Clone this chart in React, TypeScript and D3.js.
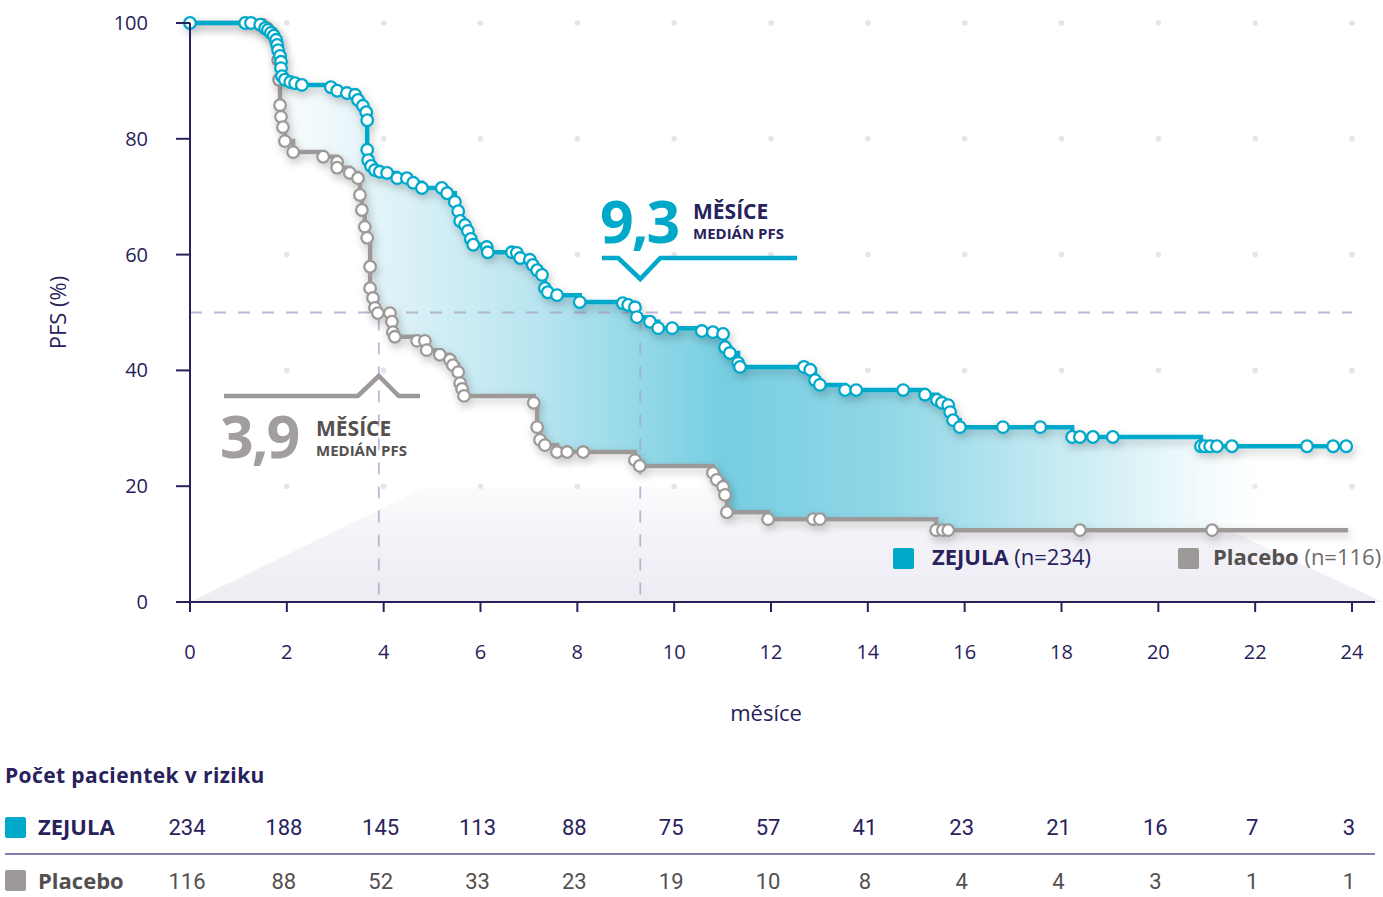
import React from 'react';
import * as d3 from 'd3';

// ---------- DATA ----------
const xTickValues = [0, 2, 4, 6, 8, 10, 12, 14, 16, 18, 20, 22, 24];
const yTickValues = [0, 20, 40, 60, 80, 100];

// [month, PFS %, censor mark (1) ]
const zejula: [number, number, number][] = [
  [0, 100, 1], [1.14, 100, 1], [1.26, 100, 1], [1.45, 99.7, 1], [1.55, 99.1, 1], [1.61, 98.8, 1],
  [1.67, 98.3, 1], [1.73, 97.8, 1], [1.78, 97.1, 1], [1.8, 96.2, 1], [1.82, 95.3, 1], [1.86, 94.3, 1],
  [1.88, 93.3, 1], [1.88, 92.2, 1], [1.9, 90.8, 1], [1.96, 90.2, 1], [2.07, 89.8, 1], [2.17, 89.6, 1],
  [2.31, 89.3, 1], [2.91, 88.9, 1], [3.04, 88.3, 1], [3.24, 87.9, 1], [3.41, 87.6, 1], [3.47, 86.7, 1],
  [3.57, 85.7, 1], [3.64, 84.6, 1], [3.66, 83.2, 1], [3.66, 78.1, 1], [3.68, 76.3, 1], [3.74, 75.3, 1],
  [3.82, 74.6, 1], [3.92, 74.3, 1], [4.07, 74.1, 1], [4.28, 73.2, 1], [4.48, 73.2, 1], [4.61, 72.4, 1],
  [4.79, 71.5, 1], [5.2, 71.5, 1], [5.31, 70.6, 1], [5.47, 69.1, 1], [5.54, 67.5, 1], [5.58, 65.8, 1],
  [5.68, 65.1, 1], [5.74, 64.1, 1], [5.8, 62.7, 1], [5.85, 61.7, 1], [6.13, 61.3, 1], [6.15, 60.4, 1],
  [6.65, 60.4, 1], [6.75, 60.3, 1], [6.82, 59.4, 1], [7.02, 59.1, 1], [7.08, 58.2, 1], [7.17, 57.3, 1],
  [7.27, 56.5, 1], [7.33, 54.2, 1], [7.39, 53.5, 1], [7.58, 53.0, 1], [8.05, 51.8, 1], [8.94, 51.6, 1],
  [9.05, 51.3, 1], [9.19, 50.9, 1], [9.23, 49.2, 1], [9.5, 48.4, 1], [9.67, 47.3, 1], [9.96, 47.3, 1],
  [10.57, 46.8, 1], [10.8, 46.6, 1], [11.01, 46.3, 1], [11.05, 44.0, 1], [11.15, 43.0, 1], [11.32, 41.3, 1],
  [11.36, 40.6, 1], [12.68, 40.6, 1], [12.81, 40.1, 1], [12.91, 38.3, 1], [13.01, 37.5, 1], [13.53, 36.6, 1],
  [13.76, 36.6, 1], [14.73, 36.6, 1], [15.18, 35.8, 1], [15.43, 34.9, 1], [15.53, 34.4, 1], [15.66, 34.0, 1],
  [15.7, 32.8, 1], [15.76, 31.4, 1], [15.9, 30.2, 1], [16.79, 30.2, 1], [17.56, 30.2, 1], [18.22, 28.5, 1],
  [18.38, 28.5, 1], [18.65, 28.5, 1], [19.06, 28.5, 1], [20.88, 26.9, 1], [20.96, 26.9, 1], [21.07, 26.9, 1],
  [21.21, 26.9, 1], [21.52, 26.9, 1], [23.07, 26.9, 1], [23.61, 26.9, 1], [23.88, 26.9, 1],
];

const placebo: [number, number, number][] = [
  [0, 100, 0], [1.49, 99.7, 1], [1.59, 99.1, 1], [1.69, 98.3, 1], [1.78, 96.7, 1], [1.82, 93.6, 1],
  [1.84, 90.2, 1], [1.86, 85.8, 1], [1.88, 83.8, 1], [1.92, 82.0, 1], [1.96, 79.6, 1], [2.13, 77.7, 1],
  [2.75, 76.9, 1], [3.04, 76.0, 1], [3.04, 75.0, 1], [3.3, 74.1, 1], [3.47, 73.2, 1], [3.51, 70.3, 1],
  [3.55, 67.7, 1], [3.61, 64.8, 1], [3.66, 62.9, 1], [3.72, 57.9, 1], [3.72, 54.2, 1], [3.78, 52.5, 1],
  [3.82, 50.8, 1], [3.88, 49.9, 1], [4.13, 49.9, 1], [4.17, 48.4, 1], [4.19, 46.6, 1], [4.23, 45.8, 1],
  [4.69, 45.1, 1], [4.85, 45.1, 1], [4.89, 43.5, 1], [5.16, 42.7, 1], [5.37, 41.8, 1], [5.43, 40.9, 1],
  [5.54, 39.7, 1], [5.58, 37.8, 1], [5.62, 36.8, 1], [5.66, 35.6, 1], [7.1, 34.4, 1], [7.17, 30.2, 1],
  [7.23, 28.0, 1], [7.33, 27.1, 1], [7.58, 25.9, 1], [7.79, 25.9, 1], [8.12, 25.9, 1], [9.19, 24.5, 1],
  [9.29, 23.5, 1], [10.8, 22.3, 1], [10.88, 21.1, 1], [11.01, 19.9, 1], [11.05, 18.5, 1], [11.09, 15.5, 1],
  [11.94, 14.3, 1], [12.87, 14.3, 1], [13.01, 14.3, 1], [15.41, 12.4, 1], [15.55, 12.4, 1], [15.66, 12.4, 1],
  [18.38, 12.4, 1], [21.11, 12.4, 1], [23.92, 12.4, 0],
];

const atRiskZejula = [234, 188, 145, 113, 88, 75, 57, 41, 23, 21, 16, 7, 3];
const atRiskPlacebo = [116, 88, 52, 33, 23, 19, 10, 8, 4, 4, 3, 1, 1];
const medianZejula = 9.3;
const medianPlacebo = 3.9;
const medianLevel = 50;

// ---------- STYLE ----------
const NAVY = '#28225c';
const BLUE = '#00a8c9';
const GREY = '#9d9999';
const GREY_TEXT = '#545050';
const FONT = '"Open Sans", "Noto Sans", sans-serif';
const NUM_FONT = '"Liberation Sans Narrow", "Roboto", sans-serif';

type Pt = [number, number, number];

function valueAt(s: Pt[], t: number) {
  let v = s[0][1];
  for (const d of s) {
    if (d[0] <= t) v = d[1];
    else break;
  }
  return v;
}

export default function App() {
  React.useEffect(() => {
    document.body.style.margin = '0';
  }, []);

  const x = d3.scaleLinear().domain([0, 24]).range([190, 1352]);
  const y = d3.scaleLinear().domain([0, 100]).range([602, 23]);

  const line = d3
    .line<Pt>()
    .x((d) => x(d[0]))
    .y((d) => y(d[1]))
    .curve(d3.curveStepAfter);

  const tEnd = Math.min(zejula[zejula.length - 1][0], placebo[placebo.length - 1][0]);
  const times = Array.from(new Set([...zejula, ...placebo].map((d) => d[0])))
    .filter((t) => t <= tEnd)
    .sort((a, b) => a - b);
  const areaData = times.map((t) => ({ t, a: valueAt(zejula, t), b: valueAt(placebo, t) }));
  const area = d3
    .area<{ t: number; a: number; b: number }>()
    .x((d) => x(d.t))
    .y0((d) => y(d.b))
    .y1((d) => y(d.a))
    .curve(d3.curveStepAfter);

  const y0 = y(0);
  const trap = [
    [x(0), y0],
    [x(4.85), y(19.8)],
    [x(19.55), y(19.8)],
    [x(24.64), y0],
  ];

  const gridDots: [number, number][] = [];
  xTickValues.filter((v) => v > 0).forEach((xv) =>
    yTickValues.filter((v) => v > 0).forEach((yv) => gridDots.push([xv, yv]))
  );

  const xm = x(medianPlacebo);
  const xz = x(medianZejula);
  const ym = y(medianLevel);

  return (
    <div style={{ position: 'absolute', left: 0, top: 0 }}>
      <svg width={1383} height={897} style={{ display: 'block', background: '#fff' }}>
        <defs>
          <linearGradient id="bgTrap" x1="0" y1="0" x2="0" y2="1">
            <stop offset="0" stopColor="#fbfbfd" />
            <stop offset="0.5" stopColor="#f3f2f7" />
            <stop offset="1" stopColor="#edecf3" />
          </linearGradient>
          <linearGradient id="fillGrad" gradientUnits="userSpaceOnUse" x1={x(0)} y1="0" x2={x(24)} y2="0">
            <stop offset="0" stopColor="#ffffff" stopOpacity="0" />
            <stop offset="0.14" stopColor="#e8f6fa" />
            <stop offset="0.3" stopColor="#b8e5f0" />
            <stop offset="0.46" stopColor="#76cee1" />
            <stop offset="0.6" stopColor="#90d7e7" />
            <stop offset="0.74" stopColor="#c3eaf2" />
            <stop offset="0.85" stopColor="#eaf8fb" />
            <stop offset="0.94" stopColor="#ffffff" stopOpacity="0" />
          </linearGradient>
          <filter id="shadow" x="-10%" y="-10%" width="120%" height="130%">
            <feDropShadow dx="2" dy="4" stdDeviation="4.5" floodColor="#000" floodOpacity="0.22" />
          </filter>
        </defs>

        {/* background trapezoid */}
        <polygon points={trap.map((p) => p.join(',')).join(' ')} fill="url(#bgTrap)" />

        {/* dot grid */}
        {gridDots.map(([a, b], i) => (
          <circle key={i} cx={x(a)} cy={y(b)} r={2.8} fill="#e4e4ee" />
        ))}

        {/* area between curves */}
        <path d={area(areaData) || ''} fill="url(#fillGrad)" />

        {/* median dashed lines */}
        <g stroke="#a7a2c6" strokeOpacity={0.75} strokeWidth={1.8} strokeDasharray="12 12" fill="none">
          <line x1={x(0)} x2={x(24)} y1={ym} y2={ym} />
          <line x1={xm} x2={xm} y1={ym + 6} y2={y0} />
          <line x1={xz} x2={xz} y1={ym + 6} y2={y0} />
        </g>

        {/* curves */}
        <g filter="url(#shadow)">
          <path d={line(placebo) || ''} fill="none" stroke={GREY} strokeWidth={4.5} />
          {placebo
            .filter((d) => d[2] === 1)
            .map((d, i) => (
              <circle key={i} cx={x(d[0])} cy={y(d[1])} r={5.8} fill="#fff" stroke={GREY} strokeWidth={2.3} />
            ))}
        </g>
        <g filter="url(#shadow)">
          <path d={line(zejula) || ''} fill="none" stroke={BLUE} strokeWidth={4.5} />
          {zejula
            .filter((d) => d[2] === 1)
            .map((d, i) => (
              <circle key={i} cx={x(d[0])} cy={y(d[1])} r={5.8} fill="#fff" stroke={BLUE} strokeWidth={2.3} />
            ))}
        </g>

        {/* placebo median annotation */}
        <polyline
          points={`224,396 ${xm - 21},396 ${xm},376 ${xm + 20},396 420,396`}
          fill="none"
          stroke={GREY}
          strokeWidth={4.5}
        />
        <text x={220} y={458} fontFamily={FONT} fontWeight={700} fontSize={59} fill="#a29e9d" letterSpacing={-2}>
          3,9
        </text>
        <text x={316} y={436} fontFamily={FONT} fontWeight={700} fontSize={21} fill={GREY_TEXT}>
          MĚSÍCE
        </text>
        <text x={316} y={456} fontFamily={FONT} fontWeight={700} fontSize={15} fill={GREY_TEXT}>
          MEDIÁN PFS
        </text>

        {/* zejula median annotation */}
        <polyline
          points={`602,258 ${xz - 22},258 ${xz},279 ${xz + 20},258 797,258`}
          fill="none"
          stroke={BLUE}
          strokeWidth={4.5}
        />
        <text x={600} y={243} fontFamily={FONT} fontWeight={700} fontSize={59} fill={BLUE} letterSpacing={-2}>
          9,3
        </text>
        <text x={693} y={219} fontFamily={FONT} fontWeight={700} fontSize={21} fill={NAVY}>
          MĚSÍCE
        </text>
        <text x={693} y={239} fontFamily={FONT} fontWeight={700} fontSize={15} fill={NAVY}>
          MEDIÁN PFS
        </text>

        {/* legend */}
        <rect x={893} y={548} width={21} height={21} rx={2} fill={BLUE} />
        <text x={932} y={565} fontFamily={FONT} fontSize={22} fill={NAVY}>
          <tspan fontWeight={700}>ZEJULA</tspan>
          <tspan> (n=234)</tspan>
        </text>
        <rect x={1178} y={548} width={21} height={21} rx={2} fill={GREY} />
        <text x={1213} y={565} fontFamily={FONT} fontSize={22} fill={GREY_TEXT}>
          <tspan fontWeight={700}>Placebo</tspan>
          <tspan fill="#6f6b6b"> (n=116)</tspan>
        </text>

        {/* axes */}
        <g stroke={NAVY} strokeWidth={2} fill="none">
          <line x1={x(0)} x2={x(0)} y1={y(100)} y2={y0 + 8} />
          <line x1={176} x2={1375} y1={y0} y2={y0} />
          {yTickValues.map((v) => (
            <line key={'yt' + v} x1={176} x2={x(0)} y1={y(v)} y2={y(v)} />
          ))}
          {xTickValues.map((v) => (
            <line key={'xt' + v} x1={x(v)} x2={x(v)} y1={y0} y2={y0 + 10} />
          ))}
        </g>
        {yTickValues.map((v) => (
          <text
            key={'yl' + v}
            x={148}
            y={y(v) + 7}
            textAnchor="end"
            fontFamily={FONT}
            fontSize={20}
            fill={NAVY}
          >
            {v}
          </text>
        ))}
        {xTickValues.map((v) => (
          <text key={'xl' + v} x={x(v)} y={659} textAnchor="middle" fontFamily={FONT} fontSize={20} fill={NAVY}>
            {v}
          </text>
        ))}
        <text
          transform={`translate(66,${y(50)}) rotate(-90)`}
          textAnchor="middle"
          fontFamily={FONT}
          fontSize={22}
          fill={NAVY}
        >
          PFS (%)
        </text>
        <text x={766} y={721} textAnchor="middle" fontFamily={FONT} fontSize={22} fill={NAVY}>
          měsíce
        </text>

        {/* at-risk table */}
        <text x={5} y={783} fontFamily={FONT} fontWeight={700} fontSize={21} fill={NAVY} letterSpacing={0.4}>
          Počet pacientek v riziku
        </text>
        <rect x={5} y={817} width={21} height={21} rx={2} fill={BLUE} />
        <text x={38} y={835} fontFamily={FONT} fontWeight={700} fontSize={22} fill={NAVY}>
          ZEJULA
        </text>
        {atRiskZejula.map((n, i) => (
          <text
            key={'rz' + i}
            x={x(xTickValues[i]) - 3}
            y={835}
            textAnchor="middle"
            fontFamily={NUM_FONT}
            fontSize={22}
            fill={NAVY}
          >
            {n}
          </text>
        ))}
        <line x1={5} x2={1375} y1={854} y2={854} stroke="#5a5490" strokeWidth={1.5} />
        <rect x={5} y={870} width={21} height={21} rx={2} fill={GREY} />
        <text x={38} y={889} fontFamily={FONT} fontWeight={700} fontSize={22} fill={GREY_TEXT}>
          Placebo
        </text>
        {atRiskPlacebo.map((n, i) => (
          <text
            key={'rp' + i}
            x={x(xTickValues[i]) - 3}
            y={889}
            textAnchor="middle"
            fontFamily={NUM_FONT}
            fontSize={22}
            fill={GREY_TEXT}
          >
            {n}
          </text>
        ))}
      </svg>
    </div>
  );
}
